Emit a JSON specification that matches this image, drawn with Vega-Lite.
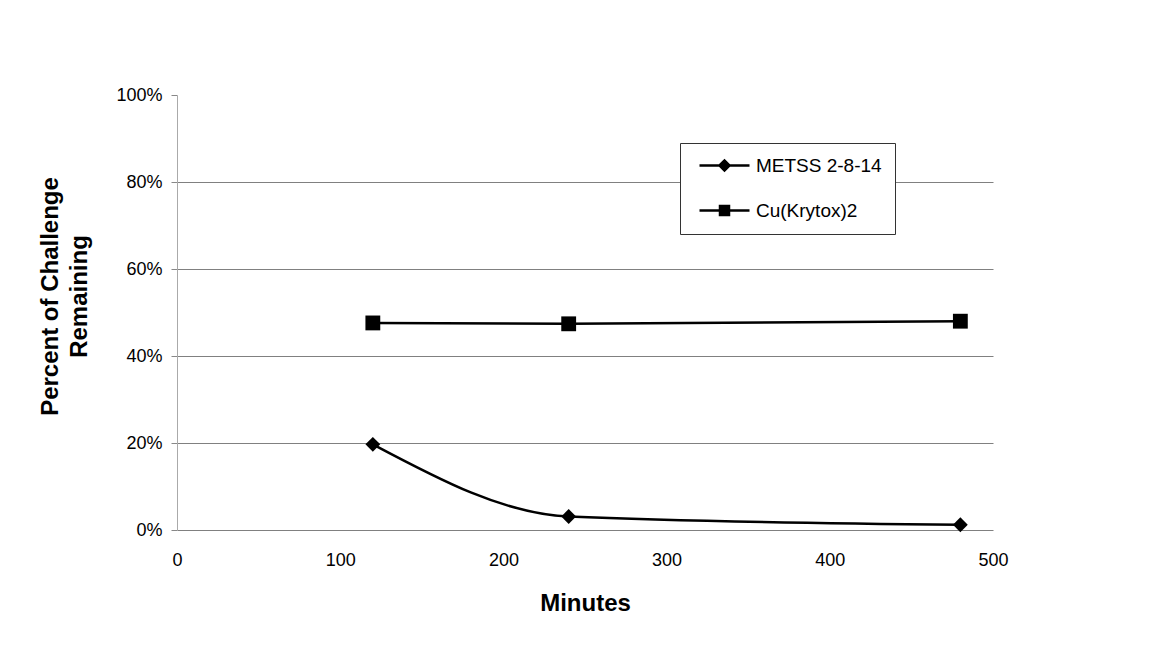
{
  "$schema": "https://vega.github.io/schema/vega-lite/v6.json",
  "autosize": "none",
  "width": 816,
  "height": 435,
  "padding": {"left": 177, "top": 95, "right": 158, "bottom": 115},
  "background": "white",
  "config": {
    "view": {"stroke": null},
    "font": "Liberation Sans",
    "axis": {"labelFont": "Liberation Sans", "titleFont": "Liberation Sans", "labelColor": "black", "titleColor": "black"}
  },
  "data": {
    "values": [
      {"series": "METSS 2-8-14", "minutes": 120, "pct": 0.197},
      {"series": "METSS 2-8-14", "minutes": 240, "pct": 0.031},
      {"series": "METSS 2-8-14", "minutes": 480, "pct": 0.012},
      {"series": "Cu(Krytox)2", "minutes": 120, "pct": 0.476},
      {"series": "Cu(Krytox)2", "minutes": 240, "pct": 0.474},
      {"series": "Cu(Krytox)2", "minutes": 480, "pct": 0.480}
    ]
  },
  "encoding": {
    "x": {
      "field": "minutes", "type": "quantitative",
      "scale": {"domain": [0, 500], "nice": false},
      "axis": {
        "values": [0, 100, 200, 300, 400, 500],
        "domain": false, "ticks": false, "grid": false, "labelFlush": false,
        "labelFontSize": 18, "labelPadding": 21,
        "title": "Minutes", "titleFontSize": 24, "titleFontWeight": "bold", "titlePadding": 22
      }
    },
    "y": {
      "field": "pct", "type": "quantitative",
      "scale": {"domain": [0, 1], "nice": false},
      "axis": {
        "values": [0, 0.2, 0.4, 0.6, 0.8, 1],
        "format": ".0%",
        "domain": true, "domainColor": "#aaaaaa", "domainWidth": 1,
        "ticks": true, "tickColor": "#888888", "tickSize": 6,
        "grid": true, "gridColor": "#808080", "gridWidth": 1,
        "gridOpacity": {"condition": {"test": "datum.value === 1", "value": 0}, "value": 1},
        "labelFontSize": 18, "labelPadding": 9,
        "title": ["Percent of Challenge", "Remaining"],
        "titleFontSize": 24, "titleFontWeight": "bold", "titleLineHeight": 29,
        "titleBaseline": "middle", "titleAngle": 270,
        "titleX": -127, "titleY": 201
      }
    }
  },
  "layer": [
    {
      "mark": {"type": "line", "interpolate": "monotone", "color": "black", "strokeWidth": 2.5},
      "encoding": {"detail": {"field": "series"}}
    },
    {
      "mark": {"type": "point", "filled": true, "opacity": 1, "color": "black"},
      "encoding": {
        "shape": {
          "condition": {"test": "datum.series === 'METSS 2-8-14'", "value": "diamond"},
          "value": "square"
        },
        "size": {"value": 220}
      }
    },
    {
      "transform": [{"filter": "false"}],
      "mark": {"type": "point", "filled": false, "opacity": 1, "color": "black", "strokeWidth": 2.5},
      "encoding": {
        "shape": {
          "field": "series", "type": "nominal",
          "scale": {
            "domain": ["METSS 2-8-14", "Cu(Krytox)2"],
            "range": [
              "M-5,0L5,0M-1,0L0,-1L1,0L0,1ZM-0.5,0L0,-0.5L0.5,0L0,0.5ZM0,-1L0,1",
              "M-5,0L5,0M-0.9,-0.9L0.9,-0.9L0.9,0.9L-0.9,0.9ZM-0.45,-0.45L0.45,-0.45L0.45,0.45L-0.45,0.45ZM0,-0.9L0,0.9"
            ]
          },
          "legend": {
            "orient": "none", "legendX": 503, "legendY": 48,
            "title": null,
            "fillColor": "white", "strokeColor": "#333333",
            "padding": 13, "rowPadding": 25,
            "labelFontSize": 19, "labelFont": "Liberation Sans", "labelColor": "black",
            "symbolSize": 100, "symbolOffset": 22, "labelOffset": 22,
            "symbolStrokeColor": "black", "symbolStrokeWidth": 2.5, "symbolOpacity": 1
          }
        }
      }
    }
  ]
}
